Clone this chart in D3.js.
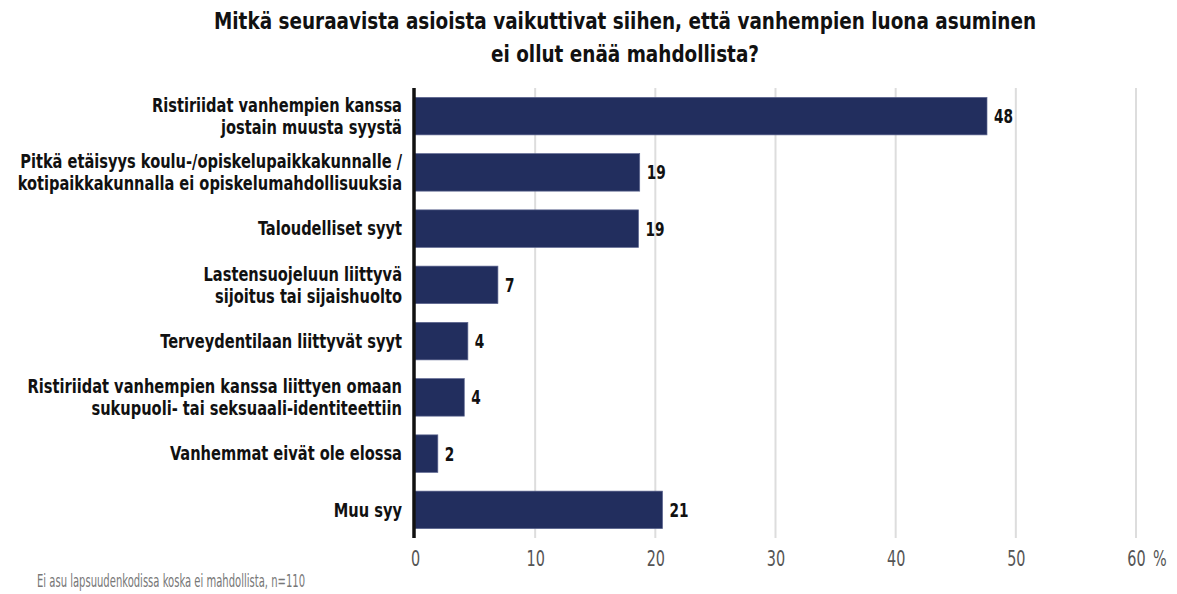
<!DOCTYPE html>
<html>
<head>
<meta charset="utf-8">
<script src="https://cdn.jsdelivr.net/npm/d3@7"></script>
<style>
  body { margin: 0; background: #fff; }
  svg { display: block; font-family: "DejaVu Sans Condensed", "DejaVu Sans", sans-serif; font-stretch: condensed; }
</style>
</head>
<body>
<div id="chart"></div>
<script>
// Data
var categories = [
  "Ristiriidat vanhempien kanssa|jostain muusta syystä",
  "Pitkä etäisyys koulu-/opiskelupaikkakunnalle /|kotipaikkakunnalla ei opiskelumahdollisuuksia",
  "Taloudelliset syyt",
  "Lastensuojeluun liittyvä|sijoitus tai sijaishuolto",
  "Terveydentilaan liittyvät syyt",
  "Ristiriidat vanhempien kanssa liittyen omaan|sukupuoli- tai seksuaali-identiteettiin",
  "Vanhemmat eivät ole elossa",
  "Muu syy"
];
var values = [47.6, 18.7, 18.6, 6.9, 4.4, 4.1, 1.9, 20.6];
var tickValues = [0, 10, 20, 30, 40, 50, 60];
var titleLines = [
  "Mitkä seuraavista asioista vaikuttivat siihen, että vanhempien luona asuminen",
  "ei ollut enää mahdollista?"
];
var footnote = "Ei asu lapsuudenkodissa koska ei mahdollista, n=110";

var width = 1177, height = 594;
var margin = { top: 88, right: 41, bottom: 56, left: 415 };

var svg = d3.select("#chart").append("svg")
  .attr("width", width)
  .attr("height", height);

// squeeze text horizontally so it looks like the condensed font of the original
function condense(sel, k) {
  sel.each(function () {
    var w = this.getComputedTextLength();
    d3.select(this)
      .attr("textLength", w * k)
      .attr("lengthAdjust", "spacingAndGlyphs");
  });
}

var x = d3.scaleLinear()
  .domain([0, 60])
  .range([margin.left, width - margin.right]);

var y = d3.scaleBand()
  .domain(d3.range(categories.length))
  .range([margin.top, height - margin.bottom])
  .paddingInner(0.333)
  .paddingOuter(0.1665);

// Title
svg.append("g")
  .selectAll("text")
  .data(titleLines)
  .enter()
  .append("text")
  .attr("x", 625)
  .attr("y", function (d, i) { return 29 + i * 33; })
  .attr("text-anchor", "middle")
  .style("font-size", "23px")
  .style("font-weight", "bold")
  .style("fill", "#111")
  .text(function (d) { return d; })
  .call(condense, 0.89);

// Gridlines
svg.append("g")
  .selectAll("line")
  .data(tickValues.slice(1))
  .enter()
  .append("line")
  .attr("x1", function (d) { return x(d); })
  .attr("x2", function (d) { return x(d); })
  .attr("y1", margin.top)
  .attr("y2", height - margin.bottom)
  .style("stroke", "#dddddd")
  .style("stroke-width", 2);

// Bars
svg.append("g")
  .selectAll("rect")
  .data(values)
  .enter()
  .append("rect")
  .attr("x", x(0))
  .attr("y", function (d, i) { return y(i); })
  .attr("width", function (d) { return x(d) - x(0); })
  .attr("height", y.bandwidth())
  .style("fill", "#222e5e")
  .style("stroke", "#5d6690")
  .style("stroke-width", 0.7);

// Value labels
svg.append("g")
  .selectAll("text")
  .data(values)
  .enter()
  .append("text")
  .attr("x", function (d) { return x(d) + 7; })
  .attr("y", function (d, i) { return y(i) + y.bandwidth() / 2; })
  .attr("dy", "0.36em")
  .style("font-size", "19.5px")
  .style("font-weight", "bold")
  .style("fill", "#111")
  .text(function (d) { return Math.round(d); })
  .call(condense, 0.78);

// Category labels, one text per line
var labelLines = [];
categories.forEach(function (c, i) {
  var lines = c.split("|");
  lines.forEach(function (l, j) {
    labelLines.push({ text: l, i: i, j: j, n: lines.length });
  });
});

svg.append("g")
  .selectAll("text")
  .data(labelLines)
  .enter()
  .append("text")
  .attr("x", 402)
  .attr("y", function (d) {
    return y(d.i) + y.bandwidth() / 2 + (d.j - (d.n - 1) / 2) * 21.7;
  })
  .attr("dy", "0.36em")
  .attr("text-anchor", "end")
  .style("font-size", "19px")
  .style("font-weight", "bold")
  .style("fill", "#111")
  .text(function (d) { return d.text; })
  .call(condense, 0.855);

// Axis line
svg.append("line")
  .attr("x1", x(0) - 1)
  .attr("x2", x(0) - 1)
  .attr("y1", margin.top)
  .attr("y2", height - margin.bottom)
  .style("stroke", "#111")
  .style("stroke-width", 3.5);

// X axis tick labels
var xAxis = svg.append("g")
  .attr("transform", "translate(0," + (height - margin.bottom) + ")")
  .call(d3.axisBottom(x).tickValues(tickValues).tickSize(0).tickPadding(13));
xAxis.select(".domain").remove();
xAxis.selectAll("text")
  .style("font-family", "\"DejaVu Sans Condensed\", \"DejaVu Sans\", sans-serif")
  .style("font-size", "20.5px")
  .style("fill", "#555")
  .call(condense, 0.78);

svg.append("text")
  .attr("x", x(60) + 17)
  .attr("y", height - margin.bottom + 13)
  .attr("dy", "0.71em")
  .style("font-size", "20.5px")
  .style("fill", "#555")
  .text("%")
  .call(condense, 0.78);

// Footnote
svg.append("text")
  .attr("x", 37)
  .attr("y", 587)
  .style("font-size", "18px")
  .style("fill", "#777")
  .text(footnote)
  .attr("textLength", 268)
  .attr("lengthAdjust", "spacingAndGlyphs");
</script>
</body>
</html>
